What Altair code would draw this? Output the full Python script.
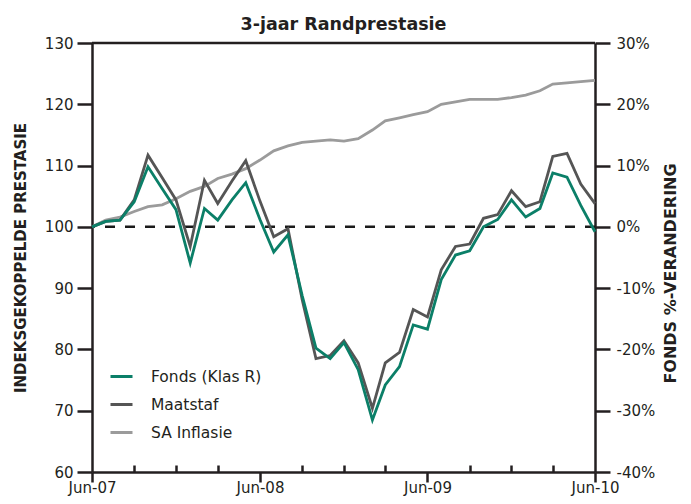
import altair as alt
import pandas as pd

# ---- data ----
months = [f"{2007 + (5 + i) // 12}-{(5 + i) % 12 + 1:02d}-01" for i in range(37)]

fonds = [100.0, 100.9, 101.1, 104.1, 109.8, 106.2, 102.8, 94.1, 103.0, 101.1,
         104.4, 107.2, 101.2, 95.9, 98.7, 88.8, 80.2, 78.5, 81.1, 76.7,
         68.5, 74.2, 77.2, 84.0, 83.3, 91.4, 95.4, 96.1, 100.0, 101.2,
         104.4, 101.6, 103.0, 108.8, 108.1, 103.5, 99.2]
maatstaf = [100.0, 100.9, 101.1, 104.4, 111.7, 108.0, 104.4, 96.8, 107.6, 103.8,
            107.5, 110.8, 104.2, 98.4, 99.7, 88.1, 78.5, 79.0, 81.4, 77.8,
            70.4, 77.8, 79.5, 86.5, 85.3, 93.0, 96.8, 97.2, 101.4, 102.0,
            105.9, 103.3, 104.1, 111.5, 112.0, 107.0, 103.8]
inflasie = [100.0, 101.1, 101.6, 102.5, 103.3, 103.6, 104.6, 105.8, 106.6, 107.9,
            108.6, 109.5, 110.9, 112.4, 113.2, 113.8, 114.0, 114.2, 114.0, 114.4,
            115.8, 117.3, 117.8, 118.3, 118.8, 120.0, 120.4, 120.8, 120.8, 120.8,
            121.1, 121.5, 122.2, 123.3, 123.5, 123.7, 123.9]

series_names = ["Fonds (Klas R)", "Maatstaf", "SA Inflasie"]
series_colors = ["#0b7f68", "#555555", "#9b9b9b"]
y_ticks = [60, 70, 80, 90, 100, 110, 120, 130]
major_years = [2007, 2008, 2009, 2010]
minor_ticks = [(2007, 9), (2007, 12), (2008, 3), (2008, 9), (2008, 12),
               (2009, 3), (2009, 9), (2009, 12), (2010, 3)]
baseline_value = [100]
top_value = [130]

rows = []
for name, vals in zip(series_names, [fonds, maatstaf, inflasie]):
    for d, v in zip(months, vals):
        rows.append({"date": d, "value": v, "series": name})
df = pd.DataFrame(rows)


def dt(y, m):
    return alt.DateTime(year=y, month=m, date=1, utc=True)


AX = "#231f20"
FONT = "DejaVu Sans"

x_scale = alt.Scale(type="utc", domain=[dt(2007, 6), dt(2010, 6)])
y_scale = alt.Scale(domain=[60, 130], nice=False, zero=False)

color = alt.Color(
    "series:N",
    scale=alt.Scale(domain=series_names, range=series_colors),
    legend=alt.Legend(
        title=None, orient="none", legendX=17, legendY=321, direction="vertical",
        symbolType="stroke", symbolSize=484, symbolStrokeWidth=3,
        labelFontSize=15.5, labelColor=AX, labelFont=FONT, labelOffset=17,
        rowPadding=7, padding=0,
    ),
)

x_main = alt.X(
    "date:T", scale=x_scale, title=None,
    axis=alt.Axis(
        orient="bottom", values=[dt(y, 6) for y in major_years], format="%b-%y",
        tickSize=10, tickWidth=2.5, tickColor=AX, domainColor=AX, domainWidth=2.5,
        labelFontSize=15, labelColor=AX, labelFont=FONT, labelPadding=10,
        labelBaseline="alphabetic", labelFlush=False, grid=False,
    ),
)
y_left = alt.Y(
    "value:Q", scale=y_scale,
    axis=alt.Axis(
        orient="left", values=y_ticks, tickSize=15, tickWidth=2.5, tickColor=AX,
        domainColor=AX, domainWidth=2.5, labelFontSize=15, labelColor=AX,
        labelFont=FONT, labelPadding=4, grid=False,
        title="INDEKSGEKOPPELDE PRESTASIE", titleFontSize=15, titleFontWeight="bold",
        titleColor=AX, titleFont=FONT, titlePadding=16,
    ),
)

x_minor = alt.X(
    "date:T", scale=x_scale, title=None,
    axis=alt.Axis(
        orient="bottom", values=[dt(y, m) for y, m in minor_ticks], labels=False,
        domain=False, tickSize=7, tickWidth=2.5, tickColor=AX, offset=-7, grid=False,
    ),
)
y_right = alt.Y(
    "value:Q", scale=y_scale,
    axis=alt.Axis(
        orient="right", values=y_ticks, labelExpr="(datum.value - 100) + '%'",
        tickSize=15, tickWidth=2.5, tickColor=AX, domainColor=AX, domainWidth=2.5,
        labelFontSize=15, labelColor=AX, labelFont=FONT, labelPadding=6, grid=False,
        title="FONDS %-VERANDERING", titleFontSize=16, titleFontWeight="bold",
        titleColor=AX, titleFont=FONT, titleAngle=270, titleBaseline="top",
        titleAlign="center", titleY=230, titlePadding=8,
    ),
)

rule = alt.Chart(pd.DataFrame({"v": baseline_value})).mark_rule(
    color="#1a1a1a", strokeWidth=2.5, strokeDash=[10, 10]
).encode(y=alt.Y("v:Q", scale=y_scale, axis=None))

top_border = alt.Chart(pd.DataFrame({"v": top_value})).mark_rule(
    color=AX, strokeWidth=2.5
).encode(y=alt.Y("v:Q", scale=y_scale, axis=None))


def series_layer(name, xenc, yenc):
    return alt.Chart(df).transform_filter(alt.datum.series == name).mark_line(
        strokeWidth=2.8
    ).encode(x=xenc, y=yenc, color=color)


x_none = alt.X("date:T", scale=x_scale, axis=None)
y_none = alt.Y("value:Q", scale=y_scale, axis=None)

infl = series_layer("SA Inflasie", x_main, y_left)
maat = series_layer("Maatstaf", x_none, y_none)
fnd = series_layer("Fonds (Klas R)", x_none, y_none)

ghost = alt.Chart(df).mark_line(strokeOpacity=0).encode(
    x=x_minor, y=y_right, detail="series:N"
)

chart = alt.layer(rule, infl, maat, fnd, top_border, ghost).resolve_axis(
    x="independent", y="independent"
).properties(
    width=503, height=429,
    autosize=alt.AutoSizeParams(type="none"),
    padding={"left": 84, "top": 35, "right": 88, "bottom": 24},
    title=alt.TitleParams(
        text="3-jaar Randprestasie", fontSize=17.5, fontWeight="bold", color=AX,
        font=FONT, anchor="middle", frame="group", offset=3,
    ),
).configure_view(
    fill="#dbe9e5", stroke=AX, strokeWidth=2.5
).configure(font=FONT, background="white")

chart.save("out.html", embed_options={"renderer": "svg", "actions": False})
